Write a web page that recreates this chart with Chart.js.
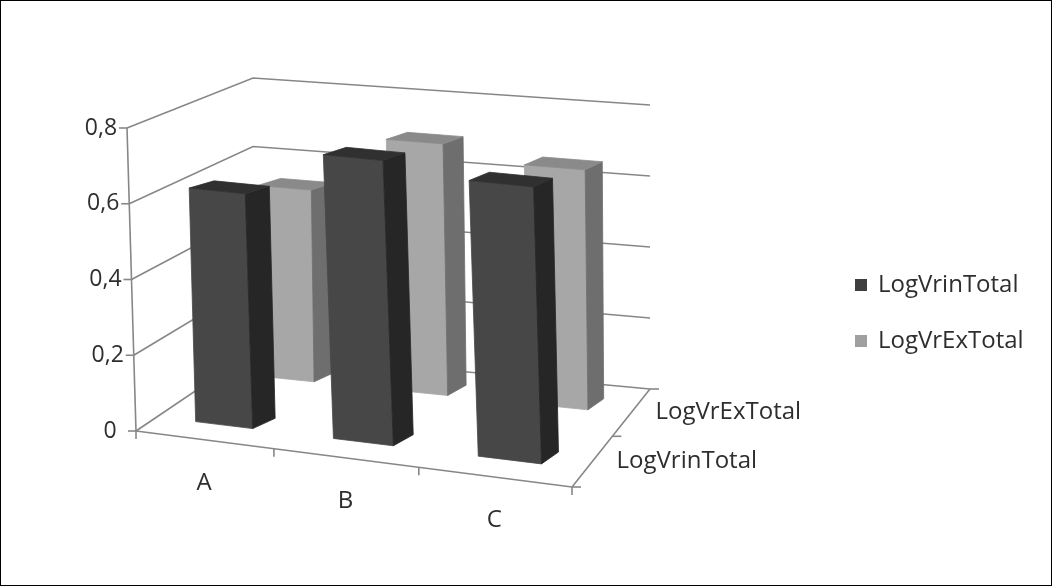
<!DOCTYPE html>
<html>
<head>
<meta charset="utf-8">
<script src="https://cdn.jsdelivr.net/npm/chart.js@4.4.1/dist/chart.umd.min.js"></script>
<style>
  html, body { margin: 0; padding: 0; background: #fff; }
  canvas { display: block; }
</style>
</head>
<body>
<canvas id="chart" width="1052" height="586"></canvas>
<script>
// Chart data
const categories = ['A', 'B', 'C'];
const seriesNames = ['LogVrinTotal', 'LogVrExTotal'];
const logVrinTotal = [0.625, 0.75, 0.72];
const logVrExTotal = [0.54, 0.70, 0.66];
const yTickValues = [0, 0.2, 0.4, 0.6, 0.8];
const yTickLabels = ['0', '0,2', '0,4', '0,6', '0,8'];

// Styling
const TEXT_FONT = '24px "Open Sans", Lato, sans-serif';
const NUM_FONT = '23px "Open Sans", Lato, sans-serif';
const TEXT_COLOR = '#2e2e2e';
const GRID_COLOR = '#878787';
const FACE_COLORS = [
  { front: '#474747', side: '#262626', top: '#303030', legend: '#3f3f3f' },
  { front: '#a7a7a7', side: '#6e6e6e', top: '#8a8a8a', legend: '#a0a0a0' }
];

// Floor (value 0) and ceiling (axis max) of the 3D box on screen,
// corners ordered front-left, front-right, back-right, back-left.
const FLOOR = [[136, 431], [572, 487], [650, 389], [253, 352]];
const CEIL  = [[127, 128], [563, 173], [650, 105], [253, 78]];
// how much of the perspective foreshortening is applied (0 = flat bilinear)
const PERSPECTIVE = 0.5;
// depth placement of each row of columns (centre, half thickness)
const ROW_CENTER = [0.27, 0.83];
const ROW_HALF = 0.1;
// vertical share of a column's depth (flatter top faces)
const TOP_FLATTEN = 0.6;

// Map the unit square (u across, w into depth) onto a quad.
function quadMap(q, u, w) {
  const [x0, y0] = q[0], [x1, y1] = q[1], [x2, y2] = q[2], [x3, y3] = q[3];
  const dx1 = x1 - x2, dx2 = x3 - x2, dx3 = x0 - x1 + x2 - x3;
  const dy1 = y1 - y2, dy2 = y3 - y2, dy3 = y0 - y1 + y2 - y3;
  const den = dx1 * dy2 - dx2 * dy1;
  const g = (dx3 * dy2 - dx2 * dy3) / den;
  const h = (dx1 * dy3 - dx3 * dy1) / den;
  const a = x1 - x0 + g * x1, b = x3 - x0 + h * x3, c = x0;
  const d = y1 - y0 + g * y1, e = y3 - y0 + h * y3, f = y0;
  const z = g * u + h * w + 1;
  return [(a * u + b * w + c) / z, (d * u + e * w + f) / z];
}

function bilinear(q, u, w) {
  const out = [0, 0];
  for (let k = 0; k < 2; k++) {
    out[k] = (1 - u) * (1 - w) * q[0][k] + u * (1 - w) * q[1][k] + u * w * q[2][k] + (1 - u) * w * q[3][k];
  }
  return out;
}

// u: fraction across categories, t: fraction of value range, w: depth fraction
function project(u, t, w) {
  const q = FLOOR.map((p, i) => [p[0] + t * (CEIL[i][0] - p[0]), p[1] + t * (CEIL[i][1] - p[1])]);
  const a = quadMap(q, u, w), b = bilinear(q, u, w);
  return [PERSPECTIVE * a[0] + (1 - PERSPECTIVE) * b[0], PERSPECTIVE * a[1] + (1 - PERSPECTIVE) * b[1]];
}

function poly(ctx, pts, fill) {
  ctx.beginPath();
  ctx.moveTo(pts[0][0], pts[0][1]);
  for (let i = 1; i < pts.length; i++) ctx.lineTo(pts[i][0], pts[i][1]);
  ctx.closePath();
  ctx.fillStyle = fill;
  ctx.fill();
  ctx.strokeStyle = fill;
  ctx.lineWidth = 0.8;
  ctx.stroke();
}

function line(ctx, pts) {
  ctx.beginPath();
  ctx.moveTo(pts[0][0], pts[0][1]);
  for (let i = 1; i < pts.length; i++) ctx.lineTo(pts[i][0], pts[i][1]);
  ctx.stroke();
}

const columns3d = {
  id: 'columns3d',
  beforeDatasetsDraw(chart) {
    const ctx = chart.ctx;
    const xs = chart.scales.x, ys = chart.scales.y;
    const uOf = px => (px - xs.left) / xs.width;
    const tOf = py => (ys.bottom - py) / (ys.bottom - ys.top);
    const rows = chart.data.datasets.length;

    ctx.save();
    ctx.lineCap = 'butt';

    // walls with gridlines
    ctx.strokeStyle = GRID_COLOR;
    ctx.lineWidth = 1.6;
    yTickValues.forEach(v => {
      const t = tOf(ys.getPixelForValue(v));
      line(ctx, [project(0, t, 0), project(0, t, 1), project(1, t, 1)]);
      const p = project(0, t, 0);
      line(ctx, [[p[0] - 8, p[1]], p]);
    });
    // value axis on the front plane
    line(ctx, [project(0, 0, 0), project(0, 1, 0)]);
    // category axis along the front of the floor
    line(ctx, [project(0, 0, 0), project(1, 0, 0)]);
    for (let i = 0; i <= categories.length; i++) {
      const p = project(uOf(xs.getPixelForValue(i - 0.5)), 0, 0);
      line(ctx, [p, [p[0], p[1] + 8]]);
    }
    // series (depth) axis on the right of the floor
    line(ctx, [project(1, 0, 0), project(1, 0, 1)]);
    for (let k = 0; k <= rows; k++) {
      const p = project(1, 0, k / rows);
      line(ctx, [p, [p[0] + 9, p[1]]]);
    }

    // columns: back row first
    for (let k = rows - 1; k >= 0; k--) {
      const meta = chart.getDatasetMeta(k);
      const w0 = ROW_CENTER[k] - ROW_HALF, w1 = ROW_CENTER[k] + ROW_HALF;
      const col = FACE_COLORS[k];
      // back corners: full depth sideways, reduced depth vertically
      const back = (u, t) => {
        const px = project(u, t, w1);
        const py = project(u, t, w0 + TOP_FLATTEN * (w1 - w0));
        return [px[0], py[1]];
      };
      meta.data.forEach(el => {
        const u0 = uOf(el.x - el.width / 2), u1 = uOf(el.x + el.width / 2);
        const t = tOf(el.y), tb = tOf(el.base);
        poly(ctx, [project(u0, tb, w0), project(u1, tb, w0), project(u1, t, w0), project(u0, t, w0)], col.front);
        poly(ctx, [project(u1, tb, w0), back(u1, tb), back(u1, t), project(u1, t, w0)], col.side);
        poly(ctx, [project(u0, t, w0), project(u1, t, w0), back(u1, t), back(u0, t)], col.top);
      });
    }

    // text
    ctx.fillStyle = TEXT_COLOR;
    ctx.textBaseline = 'middle';
    ctx.textAlign = 'center';
    ctx.font = NUM_FONT;
    yTickValues.forEach((v, i) => {
      const p = project(0, tOf(ys.getPixelForValue(v)), 0);
      ctx.fillText(yTickLabels[i], p[0] - 26, p[1]);
    });
    ctx.font = TEXT_FONT;
    categories.forEach((c, i) => {
      const p = project(uOf(xs.getPixelForValue(i)), 0, 0);
      ctx.fillText(c, p[0], p[1] + 43);
    });
    ctx.textAlign = 'left';
    chart.data.datasets.forEach((ds, k) => {
      const p = project(1, 0, (k + 0.5) / rows);
      ctx.fillText(ds.label, p[0] + 24, p[1]);
    });

    // legend
    chart.data.datasets.forEach((ds, k) => {
      const y = 285 + k * 56;
      ctx.fillStyle = FACE_COLORS[k].legend;
      ctx.fillRect(855, y - 6, 12, 12);
      ctx.fillStyle = TEXT_COLOR;
      ctx.fillText(ds.label, 878, y);
    });

    // frame
    ctx.strokeStyle = '#000';
    ctx.lineWidth = 1;
    ctx.strokeRect(0.5, 0.5, chart.width - 1, chart.height - 1);
    ctx.restore();
    return false;
  }
};

new Chart(document.getElementById('chart'), {
  type: 'bar',
  data: {
    labels: categories,
    datasets: [
      { label: seriesNames[0], data: logVrinTotal, backgroundColor: FACE_COLORS[0].front },
      { label: seriesNames[1], data: logVrExTotal, backgroundColor: FACE_COLORS[1].front }
    ]
  },
  options: {
    responsive: false,
    animation: false,
    grouped: false,
    categoryPercentage: 0.42,
    barPercentage: 1,
    layout: { padding: 0 },
    plugins: { legend: { display: false }, tooltip: { enabled: false } },
    scales: {
      x: { type: 'category', display: false, offset: true },
      y: { type: 'linear', display: false, min: 0, max: 0.8, ticks: { stepSize: 0.2 } }
    }
  },
  plugins: [columns3d]
});
</script>
</body>
</html>
